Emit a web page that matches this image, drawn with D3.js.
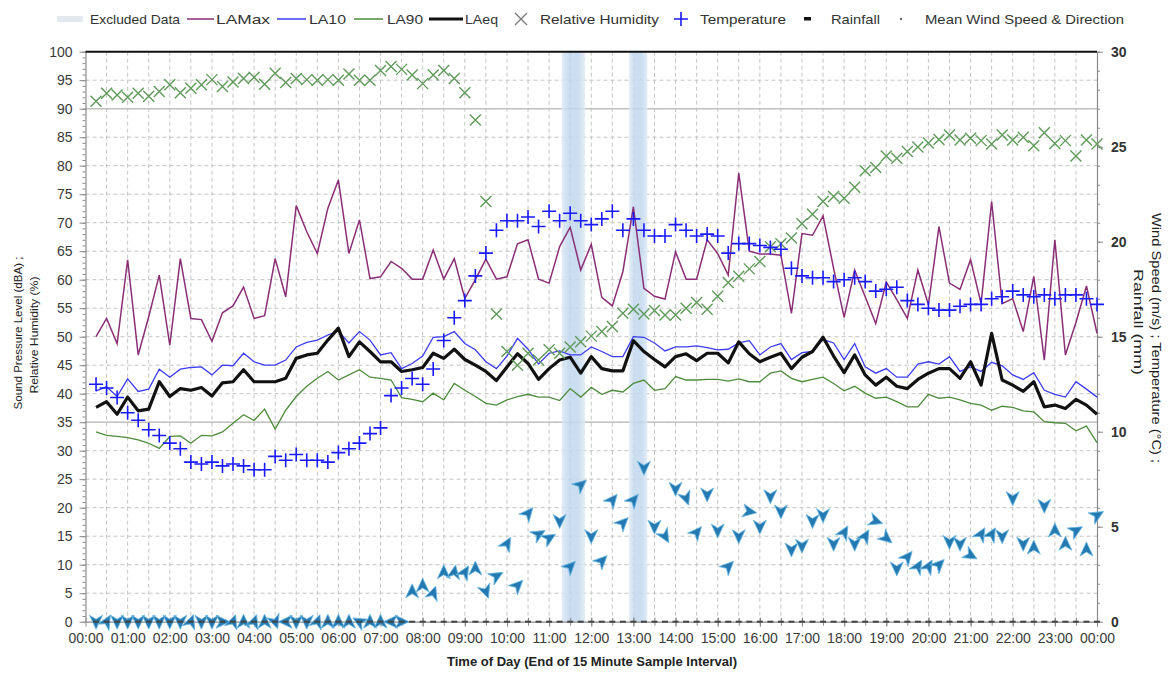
<!DOCTYPE html>
<html><head><meta charset="utf-8">
<script src="https://cdn.jsdelivr.net/npm/d3@7"></script>
<style>
body{margin:0;background:#fff;}
svg{display:block;font-family:"Liberation Sans",Arial,sans-serif;}
</style></head><body>
<svg id="chart" width="1168" height="677"></svg>
<script>
// ---------- data ----------
const hourTicks = [0,1,2,3,4,5,6,7,8,9,10,11,12,13,14,15,16,17,18,19,20,21,22,23,24];
const hourLabels = ["00:00","01:00","02:00","03:00","04:00","05:00","06:00","07:00","08:00","09:00","10:00","11:00","12:00",
  "13:00","14:00","15:00","16:00","17:00","18:00","19:00","20:00","21:00","22:00","23:00","00:00"];
const leftTicks = [0,5,10,15,20,25,30,35,40,45,50,55,60,65,70,75,80,85,90,95,100];
const rightTicks = [0,5,10,15,20,25,30];
// sample times: end of each 15 minute interval (hours)
const sampleTimes = d3.range(1, 97).map(i => i * 0.25);

const laMax = [50,53.2,48.8,63.5,46.8,53.5,60.8,48.5,63.7,53.2,53,49.2,54.2,55.4,58.7,53.2,53.7,63.7,57,73,
  68.4,64.6,72.5,77.5,64.6,70.5,60.2,60.5,63.2,62,60.1,60.1,65.2,60.1,63.7,56.7,60,63.6,60.1,60.5,
  66.3,67,60.1,59.4,65.8,69.2,61.7,66.2,56.9,55.4,61.4,72.8,58.5,57.1,56.6,64.9,60.1,60.1,67,64.6,
  60.8,78.7,65,64.5,64.5,64.3,54.1,68.1,67.8,71.2,62,53.4,61.7,57,52.3,59.6,56.5,53.2,61.7,55.6,
  69.3,59.4,58.3,63.5,55.8,73.7,55.8,56.7,50.9,60.6,45.9,67,46.8,52.5,58.9,50.6];
const la10 = [40.5,41.2,39.5,42.6,40.4,40.8,44.3,42.9,44.3,44.6,44.7,43.3,45,44.9,47.1,45.6,45,45,45.9,48.2,
  49,49.4,50.3,51,48.9,50.9,49.4,46.8,47.2,44.4,45.3,46.6,49.9,50,50.9,48.8,47.7,45.6,44.4,46.6,
  49.7,47.8,45.2,47.1,47.5,46.8,46.8,48.2,47.4,46.5,46.5,50,49.9,48.9,47.5,48.2,48.2,48.4,48.1,47.7,
  47.8,48.9,49.3,46.8,48.2,48.8,46,47.2,47.4,49.5,48.9,46,48.8,44.7,43.6,44.4,42.9,42.9,45.2,45.6,
  45.2,46.5,43.9,44.7,43.9,45.5,44.9,43.3,42.5,43.7,40.6,39.9,39.4,42.1,40.8,39.4];
const la90 = [33.3,32.7,32.5,32.3,31.9,31.3,30.4,32.5,32.6,31.3,32.7,32.6,33.3,34.8,36.3,35.3,37.3,33.8,37.1,39.5,
  41.3,42.7,43.9,42.4,43.3,44.2,42.9,42.7,42.4,39.3,39,38.6,40.1,38.9,41.8,40.6,39.5,38.3,38,38.9,
  39.5,39.9,39.4,39.4,38.8,40.9,39.4,41.1,39.9,40.6,40.3,41.8,42.4,40.6,40.9,43,42.4,42.4,42.5,42.5,
  42.2,42.6,42.1,42.1,43.6,44,42.7,42.1,42.5,42.9,41.8,40.5,41.3,40.1,39.2,39.4,38.6,37.7,37.7,39.9,
  39.2,39.4,38.9,38.3,38,37.1,37.8,37.6,37,36.8,35.1,34.9,34.8,33.5,34.3,31.4];
const laEq = [37.6,38.6,36.4,39.4,37,37.3,42.1,39.5,40.9,40.6,41.1,39.6,41.9,42.1,44.2,42.1,42.1,42.1,42.7,46.2,
  46.8,47.1,49.4,51.5,46.5,49.1,47.4,45.6,45.6,43.9,44.2,44.6,47.1,46.2,47.8,46,45,43.9,42.3,44.7,
  47,45.3,42.5,44.4,45.9,46.4,43.6,46.5,44.4,44,44,49.3,47.4,46,44.7,46.5,47,45.8,47.1,47.1,
  45.4,49.1,47,45.6,46.4,47.1,44.4,46.4,47.4,49.9,46.6,43.7,46.8,43.3,41.5,42.9,41.3,40.9,42.5,43.6,
  44.4,44.4,42.7,45.6,41.5,50.6,42.4,41.5,40.4,42.1,37.7,38,37.4,39,38,36.4];
const relHumidity = [91.3,92.7,92.4,92,92.7,92.2,93,94.2,92.8,93.6,94.2,95.1,93.9,94.7,95.3,95.5,94.3,96.2,94.6,95.3,
  95.1,95,95.1,95,96.1,95,95,96.7,97.4,96.9,95.9,94.4,95.9,96.7,95.3,92.8,88,73.7,54,47.4,
  45,47.1,45.9,47.7,47.1,48.2,49.1,50.1,50.9,51.8,54.1,54.8,54,54.6,53.8,53.8,55,56,54.8,57.1,
  59.5,60.6,61.9,63.2,65.8,66.3,67.3,69.8,71.5,73.7,74.6,74.3,76.2,79.1,79.7,81.7,81.3,82.5,83.3,84,
  84.6,85.4,84.5,84.8,84.4,83.8,85.4,84.5,85,83.5,85.8,83.9,84.4,81.7,84.5,83.8];
const temperature = [12.5,12.3,11.8,11.0,10.6,10.1,9.8,9.4,9.1,8.4,8.3,8.4,8.2,8.3,8.2,8.0,8.0,8.7,8.5,8.8,
  8.5,8.5,8.4,8.9,9.1,9.4,9.9,10.2,11.9,12.3,12.8,12.5,13.3,14.8,16.0,16.9,18.2,19.4,20.6,21.1,
  21.1,21.3,20.8,21.6,21.1,21.5,21.1,20.9,21.2,21.6,20.6,21.2,20.6,20.3,20.3,20.9,20.6,20.3,20.4,20.3,
  19.4,19.9,19.9,19.8,19.7,19.6,18.6,18.2,18.1,18.1,17.9,18.0,18.1,17.9,17.4,17.5,17.6,16.9,16.7,16.5,
  16.4,16.4,16.6,16.7,16.7,17.0,17.1,17.4,17.2,17.1,17.2,17.0,17.2,17.2,17.0,16.7];
const windSpeed = [0,0,0,0,0,0,0,0,0,0,0,0,0,0,0,0,0,0,0,0,
  0,0,0,0,0,0,0,0,0,0,1.6,1.9,1.5,2.6,2.6,2.6,2.8,1.6,2.4,4.1,
  1.9,5.7,4.6,4.4,5.3,2.9,7.2,4.5,3.2,6.4,5.2,6.4,8.1,5.0,4.5,7.0,6.5,4.7,6.7,4.8,
  2.9,4.5,5.8,5.0,6.6,5.8,3.8,4.0,5.3,5.6,4.1,4.7,4.1,4.5,5.3,4.4,2.8,3.4,2.9,2.9,
  3.0,4.2,4.1,3.5,4.6,4.6,4.5,6.5,4.1,3.9,6.1,4.8,4.1,4.8,3.8,5.6];
const windDirection = [180,30,180,180,180,180,180,180,180,20,180,180,90,20,0,20,0,160,270,180,
  180,20,0,0,0,300,0,0,270,90,0,0,20,0,10,30,0,160,60,30,
  45,40,60,60,180,45,50,180,45,40,45,40,180,180,150,180,160,40,180,180,
  45,180,100,180,180,180,180,180,180,180,180,30,180,30,110,130,180,40,30,30,
  45,180,180,120,30,30,180,180,180,0,180,0,0,60,0,60];
const rainfall = [0,0,0,0,0,0,0,0,0,0,0,0,0,0,0,0,0,0,0,0,0,0,0,0,0,0,0,0,0,0,0,0,
  0,0,0,0,0,0,0,0,0,0,0,0,0,0,0,0,0,0,0,0,0,0,0,0,0,0,0,0,0,0,0,0,
  0,0,0,0,0,0,0,0,0,0,0,0,0,0,0,0,0,0,0,0,0,0,0,0,0,0,0,0,0,0,0,0];
const excludedStart = [11.3, 12.9];
const excludedEnd = [11.85, 13.33];

// ---------- chart ----------
const svg = d3.select("#chart");
const x = d3.scaleLinear().domain([0, 24]).range([85.5, 1097]);
const yL = d3.scaleLinear().domain([0, 100]).range([621.7, 51.7]);
const yR = d3.scaleLinear().domain([0, 30]).range([621.7, 51.7]);

const defs = svg.append("defs");
const grad = defs.append("linearGradient").attr("id", "bandGrad");
grad.append("stop").attr("offset", "0%").attr("stop-color", "#dde9f5");
grad.append("stop").attr("offset", "30%").attr("stop-color", "#c2d8ee");
grad.append("stop").attr("offset", "70%").attr("stop-color", "#c2d8ee");
grad.append("stop").attr("offset", "100%").attr("stop-color", "#dde9f5");

// grid
const grid = svg.append("g");
grid.selectAll(".hg").data(leftTicks.filter(v => v > 0 && v < 100)).join("line")
  .attr("x1", x(0)).attr("x2", x(24)).attr("y1", d => yL(d)).attr("y2", d => yL(d))
  .attr("stroke", "#c4c4c4").attr("stroke-dasharray", "4,3").attr("stroke-width", 1);
grid.selectAll(".vg").data(d3.range(1, 48).map(i => i / 2)).join("line")
  .attr("x1", d => x(d)).attr("x2", d => x(d)).attr("y1", yL(100)).attr("y2", yL(0))
  .attr("stroke", "#c4c4c4").attr("stroke-dasharray", "4,3").attr("stroke-width", 1);
grid.selectAll(".sg").data([90, 35]).join("line")
  .attr("x1", x(0)).attr("x2", x(24)).attr("y1", d => yL(d)).attr("y2", d => yL(d))
  .attr("stroke", "#c2c2c2").attr("stroke-width", 1.5);

// excluded bands
svg.append("g").selectAll("rect").data(excludedStart).join("rect")
  .attr("x", (d, i) => x(d)).attr("width", (d, i) => x(excludedEnd[i]) - x(d))
  .attr("y", yL(100)).attr("height", yL(0) - yL(100))
  .attr("fill", "url(#bandGrad)").attr("opacity", 0.85);

// axes
function styleAxis(g) {
  g.select(".domain").attr("stroke", "#8a8a8a").attr("stroke-width", 1.2);
  g.selectAll(".tick line").attr("stroke", "#8a8a8a");
  g.selectAll("text").attr("fill", "#3a3a3a").style("font-size", "14px")
    .style("font-family", "'Liberation Sans', Arial, sans-serif");
}
const gL = svg.append("g").attr("transform", `translate(${x(0)},0)`)
  .call(d3.axisLeft(yL).tickValues(leftTicks).tickSize(6).tickPadding(7).tickSizeOuter(0));
styleAxis(gL);
const gLm = svg.append("g").attr("transform", `translate(${x(0)},0)`)
  .call(d3.axisLeft(yL).tickValues(d3.range(0, 101, 1)).tickSize(3).tickFormat("").tickSizeOuter(0));
styleAxis(gLm);
gLm.select(".domain").remove();

const gR = svg.append("g").attr("transform", `translate(${x(24)},0)`)
  .call(d3.axisRight(yR).tickValues(rightTicks).tickSize(6).tickPadding(8).tickSizeOuter(0));
styleAxis(gR);
gR.selectAll("text").style("font-weight", "bold").attr("fill", "#333");
const gRm = svg.append("g").attr("transform", `translate(${x(24)},0)`)
  .call(d3.axisRight(yR).tickValues(d3.range(0, 31, 1)).tickSize(3).tickFormat("").tickSizeOuter(0));
styleAxis(gRm);
gRm.select(".domain").remove();

const gB = svg.append("g").attr("transform", `translate(0,${yL(0)})`)
  .call(d3.axisBottom(x).tickValues(hourTicks).tickFormat((d, i) => hourLabels[i]).tickSize(5).tickPadding(6).tickSizeOuter(0));
styleAxis(gB);
gB.selectAll(".tick line").attr("y1", -4);
const gBm = svg.append("g").attr("transform", `translate(0,${yL(0)})`)
  .call(d3.axisBottom(x).tickValues(d3.range(0, 48).map(i => i / 2 + 0.5)).tickSize(4).tickFormat("").tickSizeOuter(0));
styleAxis(gBm);
gBm.select(".domain").remove();
gBm.selectAll(".tick line").attr("y1", -4);

// top border
svg.append("line").attr("x1", x(0)).attr("x2", x(24)).attr("y1", yL(100)).attr("y2", yL(100))
  .attr("stroke", "#111").attr("stroke-width", 2);

// series lines
const line = d3.line().x((d, i) => x(sampleTimes[i])).y(d => yL(d));
svg.append("path").datum(la90).attr("d", line).attr("fill", "none").attr("stroke", "#4e8b3c").attr("stroke-width", 1.3);
svg.append("path").datum(la10).attr("d", line).attr("fill", "none").attr("stroke", "#3c3cf5").attr("stroke-width", 1.3);
svg.append("path").datum(laMax).attr("d", line).attr("fill", "none").attr("stroke", "#8a2f76").attr("stroke-width", 1.5);
svg.append("path").datum(laEq).attr("d", line).attr("fill", "none").attr("stroke", "#111").attr("stroke-width", 3.2).attr("stroke-linejoin", "round");

// relative humidity crosses
svg.append("g").selectAll("path").data(relHumidity).join("path")
  .attr("transform", (d, i) => `translate(${x(sampleTimes[i])},${yL(d)})`)
  .attr("d", "M-5.5,-5.5L5.5,5.5M5.5,-5.5L-5.5,5.5").attr("stroke", "#5f9a5a").attr("stroke-width", 1.4).attr("fill", "none");

// temperature pluses (right axis)
svg.append("g").selectAll("path").data(temperature).join("path")
  .attr("transform", (d, i) => `translate(${x(sampleTimes[i])},${yR(d)})`)
  .attr("d", "M-7,0H7M0,-7V7").attr("stroke", "#1a1aff").attr("stroke-width", 1.6).attr("fill", "none");

// wind arrows (right axis)
svg.append("g").selectAll("path").data(windSpeed).join("path")
  .attr("transform", (d, i) => `translate(${x(sampleTimes[i])},${yR(d)}) rotate(${windDirection[i]})`)
  .attr("d", "M0,-7.5L6.5,6.5L0,2.5L-6.5,6.5Z").attr("fill", "#2479b0").attr("stroke", "#6ab6e2").attr("stroke-width", 0.8);

// rainfall markers (right axis)
svg.append("g").selectAll("rect").data(rainfall).join("rect")
  .attr("x", (d, i) => x(sampleTimes[i]) - 3).attr("y", d => yR(d) - 1)
  .attr("width", 6).attr("height", 2).attr("fill", "#444");

// axis titles
const tf = "'Liberation Sans', Arial, sans-serif";
function rotText(txt, cx, cy, rot, len, size, weight) {
  svg.append("text").attr("transform", `translate(${cx},${cy}) rotate(${rot})`)
    .attr("text-anchor", "middle").attr("dominant-baseline", "central")
    .attr("textLength", len).attr("lengthAdjust", "spacingAndGlyphs")
    .style("font-family", tf).style("font-size", size + "px").style("font-weight", weight || "normal")
    .attr("fill", "#222").text(txt);
}
rotText("Sound Pressure Level (dBA) ;", 18, 333, -90, 153, 11.5);
rotText("Relative Humidity (%)", 34, 335, -90, 117, 11.5);
rotText("Wind Speed (m/s) ; Temperature (°C) ;", 1156, 338, 90, 250, 12);
rotText("Rainfall (mm)", 1138, 322, 90, 106, 12);
svg.append("text").attr("x", 592).attr("y", 666).attr("text-anchor", "middle")
  .attr("textLength", 290).attr("lengthAdjust", "spacingAndGlyphs")
  .style("font-family", tf).style("font-size", "12px").style("font-weight", "bold").attr("fill", "#222")
  .text("Time of Day (End of 15 Minute Sample Interval)");

// legend
const legY = 19;
const lg = svg.append("g");
function legText(txt, x0, len) {
  lg.append("text").attr("x", x0).attr("y", legY).attr("dominant-baseline", "central")
    .attr("textLength", len).attr("lengthAdjust", "spacingAndGlyphs")
    .style("font-family", tf).style("font-size", "13px").attr("fill", "#333").text(txt);
}
lg.append("rect").attr("x", 57).attr("y", legY - 3).attr("width", 26).attr("height", 6).attr("fill", "#e3e9ef");
legText("Excluded Data", 90, 90);
lg.append("line").attr("x1", 187).attr("x2", 214).attr("y1", legY).attr("y2", legY).attr("stroke", "#8a2f76").attr("stroke-width", 1.5);
legText("LAMax", 216, 54);
lg.append("line").attr("x1", 277).attr("x2", 306).attr("y1", legY).attr("y2", legY).attr("stroke", "#3c3cf5").attr("stroke-width", 1.5);
legText("LA10", 309, 37);
lg.append("line").attr("x1", 354).attr("x2", 383).attr("y1", legY).attr("y2", legY).attr("stroke", "#4e8b3c").attr("stroke-width", 1.5);
legText("LA90", 387, 36);
lg.append("line").attr("x1", 429).attr("x2", 463).attr("y1", legY).attr("y2", legY).attr("stroke", "#111").attr("stroke-width", 3.2);
legText("LAeq", 465, 33);
lg.append("path").attr("transform", `translate(521,${legY})`).attr("d", "M-6,-6L6,6M6,-6L-6,6").attr("stroke", "#777").attr("stroke-width", 1.3);
legText("Relative Humidity", 540, 119);
lg.append("path").attr("transform", `translate(681,${legY})`).attr("d", "M-7,0H7M0,-7V7").attr("stroke", "#1a1aff").attr("stroke-width", 1.6);
legText("Temperature", 700, 86);
lg.append("rect").attr("x", 804).attr("y", legY - 2).attr("width", 7).attr("height", 3.5).attr("fill", "#111");
legText("Rainfall", 831, 49);
lg.append("circle").attr("cx", 901).attr("cy", legY).attr("r", 1.2).attr("fill", "#666");
legText("Mean Wind Speed & Direction", 925, 199);
</script>
</body></html>
